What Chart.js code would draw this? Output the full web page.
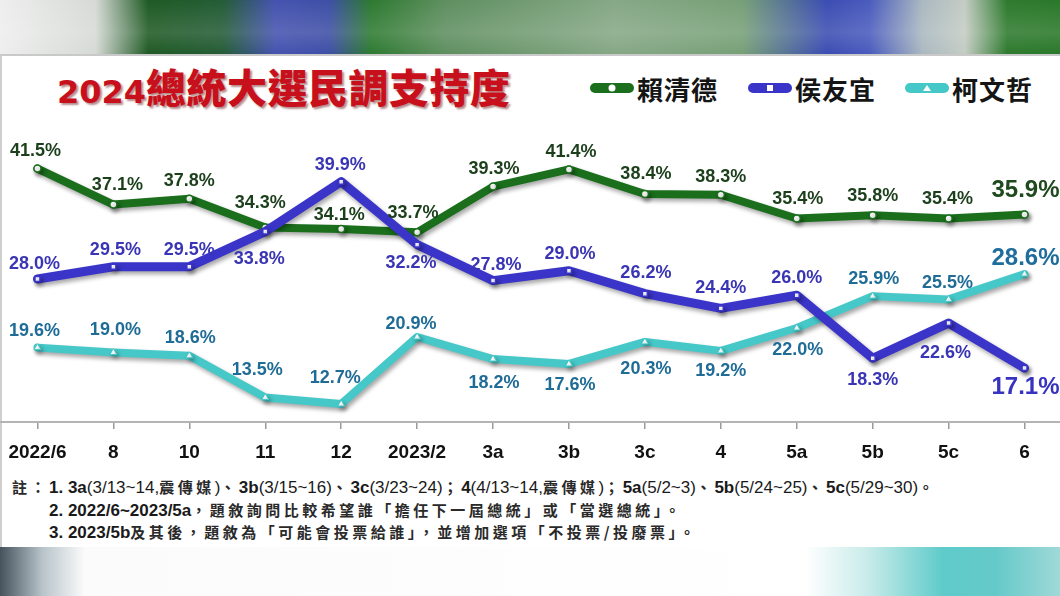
<!DOCTYPE html>
<html>
<head>
<meta charset="utf-8">
<script src="https://cdn.jsdelivr.net/npm/chart.js@4.4.1/dist/chart.umd.min.js"></script>
<style>
  html, body { margin:0; padding:0; }
  body { width:1060px; height:596px; position:relative; overflow:hidden; background:#fff;
         font-family:"Liberation Sans","Noto Sans CJK TC",sans-serif; }
  #topbg { position:absolute; left:0; top:0; width:1060px; height:54px;
    background: linear-gradient(90deg, #eeeeee 0%, #d6dad6 9%, #1f5a24 14%, #245c36 21%, #4553b0 26%, #3e4fa6 31%, #2d7a30 35%, #5f8f60 42%, #86a886 58%, #77a077 70%, #3b4db2 78%, #4a5bbd 82%, #aab8c0 87%, #c4ccc4 91%, #2e7a2e 95%, #2a782a 100%); }
  #topbg::after { content:""; position:absolute; inset:0;
    background: linear-gradient(180deg, rgba(255,255,255,0.0) 0%, rgba(255,255,255,0.12) 60%, rgba(255,255,255,0.0) 100%); }
  #botbg { position:absolute; left:0; top:547px; width:1060px; height:49px;
    background: linear-gradient(90deg, #46525c 0%, #b8c4ca 4%, #fbfbfb 8%, #ffffff 76%, #c6ebe9 82%, #5ecbca 89%, #66c9c9 94%, #9fd9d8 100%); }
  #panel { position:absolute; left:0; top:54px; width:1060px; height:493px; background:#fff;
    border-top:2px solid #c9c9c9; border-left:2px solid #cfcfcf; box-sizing:border-box; }
  #title { position:absolute; left:57px; top:64px; color:#c8101c; font-weight:bold; white-space:nowrap;
    text-shadow: 2px 2px 2px rgba(90,0,0,0.45); line-height:44px; height:44px; }
  #title .d { font-family:"DejaVu Sans",sans-serif; font-size:32px; font-weight:bold; }
  #title .c { font-family:"Noto Sans CJK TC",sans-serif; font-size:40px; font-weight:900; letter-spacing:0.5px; }
  .leg { position:absolute; top:72px; height:32px; display:flex; align-items:center; white-space:nowrap; }
  .leg .bar { position:relative; width:44px; height:10px; border-radius:5px; margin-right:3px; }
  .leg .mk { position:absolute; left:50%; top:50%; transform:translate(-50%,-50%); background:#fff; }
  .leg .txt { font-family:"Noto Sans CJK TC",sans-serif; font-weight:bold; font-size:26px; color:#151515; letter-spacing:1px; }
  #chartwrap { position:absolute; left:-6px; top:100px; width:1074px; height:372px; }
  .note { position:absolute; font-size:17px; color:#1a1a1a; white-space:nowrap; line-height:20px; }
  .note b { font-weight:bold; }
  .note .cj { font-family:"Noto Sans CJK TC",sans-serif; font-weight:bold; font-size:15px; letter-spacing:3.5px; color:#2a2a2a; }
</style>
</head>
<body>
<div id="topbg"></div>
<div id="botbg"></div>
<div id="panel"></div>
<div id="title"><span class="d">2024</span><span class="c">總統大選民調支持度</span></div>

<div class="leg" style="left:590px;">
  <div class="bar" style="background:#1a6e1c;"><div class="mk" style="width:7px;height:7px;border-radius:50%;"></div></div>
  <span class="txt">賴清德</span>
</div>
<div class="leg" style="left:748px;">
  <div class="bar" style="background:#3a35c8;"><div class="mk" style="width:6px;height:6px;"></div></div>
  <span class="txt">侯友宜</span>
</div>
<div class="leg" style="left:905px;">
  <div class="bar" style="background:#46c8c8;"><div class="mk" style="width:0;height:0;background:none;border-left:4px solid transparent;border-right:4px solid transparent;border-bottom:6px solid #fff;"></div></div>
  <span class="txt">柯文哲</span>
</div>

<div id="chartwrap"><canvas id="c"></canvas></div>

<div class="note" style="left:12px; top:477px;"><span class="cj">註：</span><b>1. 3a</b>(3/13~14,<span class="cj">震傳媒</span>)<span class="cj">、</span><b>3b</b>(3/15~16)<span class="cj">、</span><b>3c</b>(3/23~24)<span class="cj">；</span><b>4</b>(4/13~14,<span class="cj">震傳媒</span>)<span class="cj">；</span><b>5a</b>(5/2~3)<span class="cj">、</span><b>5b</b>(5/24~25)<span class="cj">、</span><b>5c</b>(5/29~30)<span class="cj">。</span></div>
<div class="note" style="left:49px; top:500px;"><b>2. 2022/6~2023/5a</b><span class="cj">，題敘詢問比較希望誰「擔任下一屆總統」或「當選總統」。</span></div>
<div class="note" style="left:49px; top:522px;"><b>3. 2023/5b</b><span class="cj">及其後，題敘為「可能會投票給誰」，並增加選項「不投票/投廢票」。</span></div>

<script>
// ---- data ----
const categories = ["2022/6","8","10","11","12","2023/2","3a","3b","3c","4","5a","5b","5c","6"];
const laiValues  = [41.5, 37.1, 37.8, 34.3, 34.1, 33.7, 39.3, 41.4, 38.4, 38.3, 35.4, 35.8, 35.4, 35.9];
const houValues  = [28.0, 29.5, 29.5, 33.8, 39.9, 32.2, 27.8, 29.0, 26.2, 24.4, 26.0, 18.3, 22.6, 17.1];
const koValues   = [19.6, 19.0, 18.6, 13.5, 12.7, 20.9, 18.2, 17.6, 20.3, 19.2, 22.0, 25.9, 25.5, 28.6];
const seriesNames = ["賴清德", "侯友宜", "柯文哲"];

// ---- label placement (offsets from point, px) ----
const labelOffsets = [
  [[-2,-18],[4,-20],[0,-18],[-5,-24],[-2,-14],[-4,-19],[1,-18],[2,-17],[1,-20],[0,-18],[1,-19],[0,-19],[-1,-19],[1,-24]],
  [[-3,-15],[2,-17],[0,-17],[-6,27],[-1,-17],[-6,18],[3,-16],[1,-17],[1,-21],[0,-20],[0,-17],[0,22],[-3,30],[1,19]],
  [[-3,-17],[2,-22],[1,-18],[-8,-27],[-6,-26],[-6,-13],[1,24],[1,21],[1,27],[0,20],[1,22],[1,-17],[-1,-16],[1,-16]]
];
const labelColors = ["#1c3f1c", "#3a35b4", "#1f6c96"];
const lastLabelColors = ["#1e4a1e", "#3733c0", "#1f6d9c"];

const shadowPlugin = {
  id: "shadow",
  beforeDatasetDraw(chart, args) {
    const ctx = chart.ctx;
    ctx.save();
    ctx.shadowColor = "rgba(0,0,0,0.35)";
    ctx.shadowBlur = 4;
    ctx.shadowOffsetX = 2;
    ctx.shadowOffsetY = 3;
  },
  afterDatasetDraw(chart) { chart.ctx.restore(); }
};

const labelPlugin = {
  id: "valueLabels",
  afterDatasetsDraw(chart) {
    const ctx = chart.ctx;
    ctx.save();
    ctx.textAlign = "center";
    ctx.textBaseline = "middle";
    chart.data.datasets.forEach((ds, di) => {
      const meta = chart.getDatasetMeta(di);
      meta.data.forEach((pt, i) => {
        const last = i === ds.data.length - 1;
        const off = labelOffsets[di][i];
        ctx.font = last ? "bold 24px 'Liberation Sans', Arial, sans-serif" : "bold 18px 'Liberation Sans', Arial, sans-serif";
        ctx.fillStyle = last ? lastLabelColors[di] : labelColors[di];
        ctx.fillText(ds.data[i].toFixed(1) + "%", pt.x + off[0], pt.y + off[1]);
      });
    });
    ctx.restore();
  }
};

new Chart(document.getElementById("c"), {
  type: "line",
  data: {
    labels: categories,
    datasets: [
      { label: seriesNames[0], data: laiValues, borderColor: "#1a6e1c", borderWidth: 8,
        pointStyle: "circle", pointRadius: 3.5, pointBackgroundColor: "#fff", pointBorderColor: "#1a6e1c", pointBorderWidth: 1.5,
        order: 1, tension: 0, borderJoinStyle: "round", borderCapStyle: "round" },
      { label: seriesNames[1], data: houValues, borderColor: "#3a35c8", borderWidth: 9,
        pointStyle: "rect", pointRadius: 3.5, pointBackgroundColor: "#fff", pointBorderColor: "#3a35c8", pointBorderWidth: 1.5,
        order: 0, tension: 0, borderJoinStyle: "round", borderCapStyle: "round" },
      { label: seriesNames[2], data: koValues, borderColor: "#46c8c8", borderWidth: 8,
        pointStyle: "triangle", pointRadius: 4, pointBackgroundColor: "#fff", pointBorderColor: "#46c8c8", pointBorderWidth: 1,
        order: 2, tension: 0, borderJoinStyle: "round", borderCapStyle: "round" }
    ]
  },
  options: {
    responsive: true,
    maintainAspectRatio: false,
    animation: false,
    layout: { padding: { top: 40, bottom: 0, left: 0, right: 0 } },
    plugins: { legend: { display: false }, tooltip: { enabled: false } },
    scales: {
      x: {
        offset: true,
        border: { display: true, color: "#b4b4b4", width: 2 },
        grid: { display: true, drawOnChartArea: false, drawTicks: true, tickLength: 7, color: "#9a9a9a", lineWidth: 1.5, offset: false },
        ticks: { color: "#111", padding: 12, maxRotation: 0, autoSkip: false,
                 font: { family: "'Liberation Sans', Arial, sans-serif", size: 19, weight: "bold" } },
        afterFit(scale) { scale.height = 50; }
      },
      y: { display: false, min: 10.5, max: 45 }
    }
  },
  plugins: [shadowPlugin, labelPlugin]
});
</script>
</body>
</html>
